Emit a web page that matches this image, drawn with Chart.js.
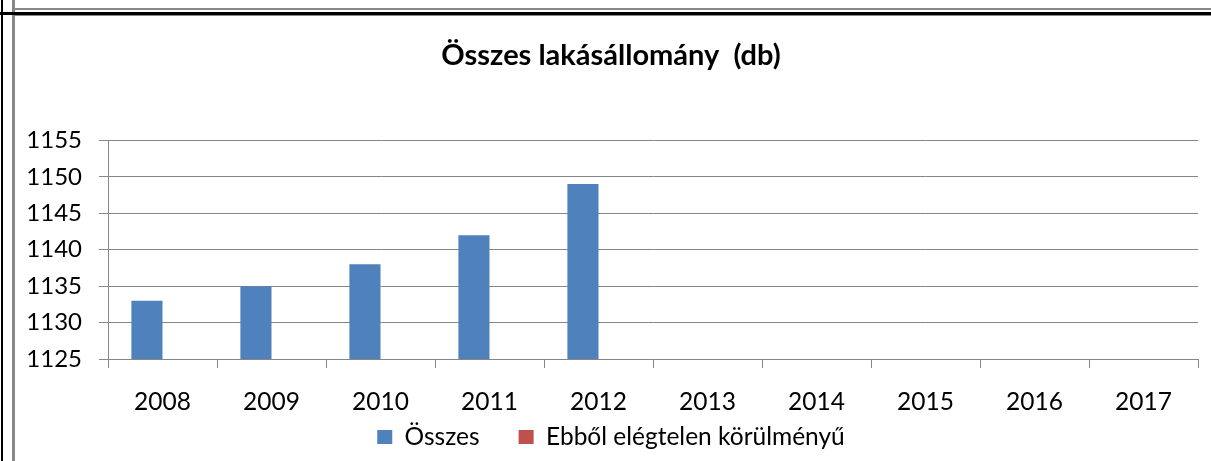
<!DOCTYPE html>
<html>
<head>
<meta charset="utf-8">
<script src="https://cdn.jsdelivr.net/npm/chart.js@4/dist/chart.umd.min.js"></script>
<style>
  body { margin: 0; background: #fff; }
  #wrap { position: absolute; left: 0; top: 0; width: 1211px; height: 461px; }
  .ln { position: absolute; }
</style>
</head>
<body>
<div id="wrap"><canvas id="chart"></canvas></div>
<!-- frame lines round the chart -->
<div class="ln" style="left:1px;top:0;width:2px;height:461px;background:#000"></div>
<div class="ln" style="left:12px;top:0;width:3px;height:461px;background:#888"></div>
<div class="ln" style="left:12px;top:8px;width:1199px;height:2px;background:#888"></div>
<div class="ln" style="left:0;top:12px;width:1211px;height:3px;background:#000"></div>
<div class="ln" style="left:12px;top:15px;width:1199px;height:1px;background:#888"></div>
<script>
var years = ['2008', '2009', '2010', '2011', '2012', '2013', '2014', '2015', '2016', '2017'];
var osszes = [1133, 1135, 1138, 1142, 1149, null, null, null, null, null];
var elegtelen = [null, null, null, null, null, null, null, null, null, null];
var seriesNames = ['Összes', 'Ebből elégtelen körülményű'];
var chartTitle = 'Összes lakásállomány  (db)';

var font = 'Lato, "Liberation Sans", sans-serif';
var gridColor = '#868686';

var ctx = document.getElementById('chart').getContext('2d');
var chart = new Chart(ctx, {
    type: 'bar',
    data: {
        labels: years,
        datasets: [{
            label: seriesNames[0],
            data: osszes,
            backgroundColor: '#4F81BD',
            categoryPercentage: 0.571,
            barPercentage: 1.0
        }, {
            label: seriesNames[1],
            data: elegtelen,
            backgroundColor: '#C0504D',
            categoryPercentage: 0.571,
            barPercentage: 1.0
        }]
    },
    options: {
        responsive: true,
        maintainAspectRatio: false,
        animation: false,
        layout: { padding: { left: 24, right: 13, top: 0, bottom: 1.75 } },
        plugins: {
            title: {
                display: true,
                text: chartTitle,
                color: '#000',
                font: { family: font, size: 29, weight: 'bold' },
                padding: { top: 38, bottom: 67.6 }
            },
            legend: {
                position: 'bottom',
                labels: {
                    color: '#000',
                    font: { family: font, size: 24.5 },
                    boxWidth: 15,
                    boxHeight: 14,
                    padding: 7.75,
                    // wider gap between the two legend entries
                    generateLabels: function (c) {
                        var items = Chart.defaults.plugins.legend.labels.generateLabels(c);
                        items[0].text += '     ';
                        return items;
                    }
                }
            },
            tooltip: { enabled: false }
        },
        scales: {
            x: {
                afterFit: function (scale) { scale.height = 58; },
                grid: {
                    offset: true,
                    drawOnChartArea: false,
                    drawTicks: true,
                    tickLength: 9,
                    color: gridColor
                },
                border: { color: gridColor },
                ticks: {
                    color: '#000',
                    font: { family: font, size: 24.5 },
                    padding: 19,
                    maxRotation: 0
                }
            },
            y: {
                min: 1125,
                max: 1155,
                afterFit: function (scale) { scale.width = 84; },
                grid: {
                    color: gridColor,
                    tickLength: 9
                },
                border: { color: gridColor },
                ticks: {
                    stepSize: 5,
                    color: '#000',
                    font: { family: font, size: 24 },
                    padding: 17,
                    callback: function (v) { return String(v); }
                }
            }
        }
    }
});
</script>
</body>
</html>
